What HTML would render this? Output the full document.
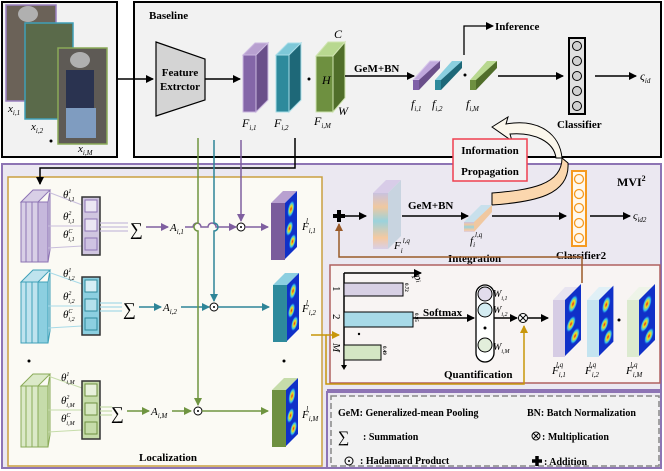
<!DOCTYPE html>
<html><head><meta charset="utf-8"><style>
html,body{margin:0;padding:0;background:#fff;}
svg{display:block;font-family:"Liberation Serif",serif;}
.b{font-weight:bold;}
</style></head><body>
<svg width="664" height="471" viewBox="0 0 664 471" xmlns="http://www.w3.org/2000/svg">
<defs>
<marker id="ak" markerWidth="8" markerHeight="8" refX="7" refY="4" orient="auto" markerUnits="userSpaceOnUse"><path d="M0,0L8,4L0,8z" fill="#000"/></marker>
<marker id="ap" markerWidth="8" markerHeight="8" refX="7" refY="4" orient="auto" markerUnits="userSpaceOnUse"><path d="M0,0L8,4L0,8z" fill="#7f5fa0"/></marker>
<marker id="at" markerWidth="8" markerHeight="8" refX="7" refY="4" orient="auto" markerUnits="userSpaceOnUse"><path d="M0,0L8,4L0,8z" fill="#2e8598"/></marker>
<marker id="ag" markerWidth="8" markerHeight="8" refX="7" refY="4" orient="auto" markerUnits="userSpaceOnUse"><path d="M0,0L8,4L0,8z" fill="#6f9440"/></marker>
<marker id="ao" markerWidth="8" markerHeight="8" refX="7" refY="4" orient="auto" markerUnits="userSpaceOnUse"><path d="M0,0L8,4L0,8z" fill="#c8960a"/></marker>
<marker id="ab" markerWidth="8" markerHeight="8" refX="7" refY="4" orient="auto" markerUnits="userSpaceOnUse"><path d="M0,0L8,4L0,8z" fill="#9a5a28"/></marker>
<linearGradient id="rain" x1="0" y1="0" x2="0" y2="1"><stop offset="0" stop-color="#c9c2de"/><stop offset=".25" stop-color="#f0c8a0"/><stop offset=".5" stop-color="#9ad2dc"/><stop offset=".8" stop-color="#f5c9a0"/><stop offset="1" stop-color="#d8d0e8"/></linearGradient>
<radialGradient id="hot"><stop offset="0" stop-color="#e02020"/><stop offset=".35" stop-color="#f0e020"/><stop offset=".7" stop-color="#30c0f0"/><stop offset="1" stop-color="#1030d0" stop-opacity="0"/></radialGradient>
<g id="heat">
<rect x="0" y="0" width="16" height="56" fill="#1030c8"/>
<ellipse cx="8" cy="12" rx="5" ry="8" fill="url(#hot)"/>
<ellipse cx="6" cy="30" rx="5" ry="7" fill="url(#hot)"/>
<ellipse cx="10" cy="46" rx="5" ry="7" fill="url(#hot)"/>
</g>
</defs>

<!-- top-left images box -->
<rect x="2" y="2" width="115" height="155" fill="#f2f2f2" stroke="#000" stroke-width="2"/>
<rect x="6" y="5" width="50" height="96" fill="#6b6258" stroke="#9a7fc0" stroke-width="1.5"/>
<rect x="25" y="23" width="48" height="96" fill="#5a6a4a" stroke="#3fa0b8" stroke-width="1.5"/>
<rect x="58" y="48" width="49" height="96" fill="#5e5a55" stroke="#8aaa58" stroke-width="1.5"/>
<rect x="66" y="70" width="28" height="40" fill="#2a3350"/>
<rect x="66" y="108" width="30" height="30" fill="#7f9cc0"/>
<ellipse cx="80" cy="60" rx="10" ry="8" fill="#b0b0b0"/>
<ellipse cx="28" cy="14" rx="10" ry="8" fill="#b0b0b0"/>
<text x="8" y="112" font-size="11" font-style="italic">x<tspan font-size="7" dy="3">i,1</tspan></text>
<text x="31" y="130" font-size="11" font-style="italic">x<tspan font-size="7" dy="3">i,2</tspan></text>
<circle cx="51" cy="141" r="1.5"/>
<text x="78" y="152" font-size="11" font-style="italic">x<tspan font-size="7" dy="3">i,M</tspan></text>

<!-- baseline box -->
<rect x="134" y="2" width="527" height="155" fill="#f2f2f2" stroke="#000" stroke-width="2"/>
<text x="149" y="19" font-size="11" class="b">Baseline</text>
<line x1="117" y1="79" x2="153" y2="79" stroke="#000" stroke-width="1.5" marker-end="url(#ak)"/>
<polygon points="156,42 205,59 205,100 156,116" fill="#d4d4d4" stroke="#000" stroke-width="1.2"/>
<text x="180" y="76" font-size="11" class="b" text-anchor="middle">Feature</text>
<text x="180" y="90" font-size="11" class="b" text-anchor="middle">Extrctor</text>
<line x1="205" y1="79" x2="240" y2="79" stroke="#000" stroke-width="1.5" marker-end="url(#ak)"/>
<g stroke-width="1">
<polygon points="243,55 255,43 268,43 256,55" fill="#b8a0d0" stroke="#cbb8e0"/>
<polygon points="256,55 268,43 268,100 256,112" fill="#6a4f8a" stroke="#cbb8e0"/>
<rect x="243" y="55" width="13" height="57" fill="#8466a8" stroke="#cbb8e0"/>
<polygon points="276,55 288,43 301,43 289,55" fill="#7ec8d8" stroke="#a8dde8"/>
<polygon points="289,55 301,43 301,100 289,112" fill="#1e6878" stroke="#a8dde8"/>
<rect x="276" y="55" width="13" height="57" fill="#2e8a9c" stroke="#a8dde8"/>
<polygon points="316,56 328,42 345,42 333,56" fill="#b8d890" stroke="#cfe4b0"/>
<polygon points="333,56 345,42 345,98 333,112" fill="#506e2a" stroke="#cfe4b0"/>
<rect x="316" y="56" width="17" height="56" fill="#6e9040" stroke="#cfe4b0"/>
</g>
<circle cx="309" cy="79" r="1.5"/>
<text x="322" y="84" font-size="12" font-style="italic">H</text>
<text x="334" y="38" font-size="12" font-style="italic">C</text>
<text x="338" y="115" font-size="12" font-style="italic">W</text>
<text x="242" y="127" font-size="12" font-style="italic">F<tspan font-size="7" dy="3">i,1</tspan></text>
<text x="274" y="127" font-size="12" font-style="italic">F<tspan font-size="7" dy="3">i,2</tspan></text>
<text x="314" y="125" font-size="12" font-style="italic">F<tspan font-size="7" dy="3">i,M</tspan></text>
<text x="354" y="72" font-size="11" class="b">GeM+BN</text>
<line x1="345" y1="76" x2="414" y2="76" stroke="#000" stroke-width="1.5" marker-end="url(#ak)"/>
<polygon points="413,80 430,61 440,61 423,80" fill="#c0a8dc" stroke="#d8c8ec"/><rect x="413" y="80" width="6" height="10" fill="#8060a8"/><polygon points="419,80 440,61 440,68 419,90" fill="#6a4f8a"/>
<polygon points="435,80 452,61 462,61 445,80" fill="#8ad0e0"/><rect x="435" y="80" width="6" height="10" fill="#2e8a9c"/><polygon points="441,80 462,61 462,68 441,90" fill="#1e6878"/>
<circle cx="465" cy="75" r="1.5"/>
<polygon points="470,80 487,61 497,61 480,80" fill="#b8d890"/><rect x="470" y="80" width="6" height="10" fill="#6e9040"/><polygon points="476,80 497,61 497,68 476,90" fill="#506e2a"/>
<text x="411" y="108" font-size="12" font-style="italic">f<tspan font-size="7" dy="3">i,1</tspan></text>
<text x="432" y="108" font-size="12" font-style="italic">f<tspan font-size="7" dy="3">i,2</tspan></text>
<text x="466" y="108" font-size="12" font-style="italic">f<tspan font-size="7" dy="3">i,M</tspan></text>
<polyline points="464,55 464,26 493,26" fill="none" stroke="#000" stroke-width="1.3" marker-end="url(#ak)"/>
<text x="495" y="30" font-size="11" class="b">Inference</text>
<line x1="498" y1="76" x2="563" y2="76" stroke="#000" stroke-width="1.5" marker-end="url(#ak)"/>
<rect x="569" y="38" width="16" height="76" fill="#e0e0e0" stroke="#000" stroke-width="2"/>
<g fill="#d0d0d0" stroke="#000"><circle cx="577" cy="46" r="4.5"/><circle cx="577" cy="61" r="4.5"/><circle cx="577" cy="76" r="4.5"/><circle cx="577" cy="91" r="4.5"/><circle cx="577" cy="106" r="4.5"/></g>
<text x="557" y="128" font-size="11" class="b">Classifier</text>
<line x1="595" y1="76" x2="636" y2="76" stroke="#000" stroke-width="1.5" marker-end="url(#ak)"/>
<text x="640" y="80" font-size="12" font-style="italic">ς<tspan font-size="7" dy="3">id</tspan></text>

<!-- MVI outer -->
<path d="M2,164H661V390H328V468H2Z" fill="#ebe8f1" stroke="#8d74b4" stroke-width="2"/>
<rect x="327" y="392" width="334" height="76" fill="#ebe8f1" stroke="#8d74b4" stroke-width="2"/>
<text x="617" y="186" font-size="12" class="b">MVI<tspan font-size="8" dy="-5">2</tspan></text>

<!-- propagation swoosh -->
<path d="M492,127 L508,117 L506,124 C540,118 560,135 562,158 L556,158 C554,142 535,132 510,134 L512,141 Z" fill="#fbf7ec" stroke="#000" stroke-width="1"/>
<path d="M562,158 C562,185 530,190 492,193 L492,205 C535,202 570,195 568,163 Z" fill="#fbd7ae" stroke="#000" stroke-width="1"/>
<rect x="453" y="139" width="74" height="42" fill="#f2f2f2" stroke="#f04050" stroke-width="1.5"/>
<text x="490" y="154" font-size="11" class="b" text-anchor="middle">Information</text>
<text x="490" y="175" font-size="11" class="b" text-anchor="middle">Propagation</text>

<!-- integration row -->
<path d="M333,216h12M339,210v12" stroke="#000" stroke-width="4"/>
<line x1="345" y1="216" x2="366" y2="216" stroke="#000" stroke-width="1.5" marker-end="url(#ak)"/>
<polygon points="373,193 386,180 401,180 388,193" fill="#d8cce8"/>
<polygon points="388,193 401,180 401,236 388,249" fill="#c8d4e0"/>
<rect x="373" y="193" width="15" height="56" fill="url(#rain)"/>
<text x="394" y="249" font-size="11" font-style="italic">F<tspan font-size="7" dy="4">i</tspan><tspan font-size="7" dy="-10">l,q</tspan></text>
<text x="408" y="209" font-size="11" class="b">GeM+BN</text>
<line x1="402" y1="216" x2="468" y2="216" stroke="#000" stroke-width="1.5" marker-end="url(#ak)"/>
<polygon points="464,222 481,205 492,205 475,222" fill="#c8e0ec"/><rect x="464" y="222" width="10" height="10" fill="url(#rain)"/><polygon points="474,222 492,205 492,212 474,232" fill="#f0c8a0"/>
<text x="470" y="244" font-size="11" font-style="italic">f<tspan font-size="7" dy="3">i</tspan><tspan font-size="7" dy="-10">l,q</tspan></text>
<text x="448" y="262" font-size="11" class="b">Integration</text>
<line x1="492" y1="216" x2="566" y2="216" stroke="#000" stroke-width="1.5" marker-end="url(#ak)"/>
<rect x="572" y="171" width="14" height="75" fill="#fff8ec" stroke="#f59a20" stroke-width="2"/>
<g fill="none" stroke="#f59a20" stroke-width="1.3"><circle cx="579" cy="179" r="4.5"/><circle cx="579" cy="194" r="4.5"/><circle cx="579" cy="208" r="4.5"/><circle cx="579" cy="223" r="4.5"/><circle cx="579" cy="238" r="4.5"/></g>
<text x="556" y="259" font-size="11" class="b">Classifier2</text>
<line x1="590" y1="216" x2="630" y2="216" stroke="#000" stroke-width="1.5" marker-end="url(#ak)"/>
<text x="633" y="219" font-size="11" font-style="italic">ς<tspan font-size="7" dy="3">id2</tspan></text>

<!-- quantification -->
<rect x="330" y="265" width="330" height="118" fill="#f8f4f3" stroke="#b06060" stroke-width="1.5"/>
<polyline points="582,283 582,257 339,257 339,224" fill="none" stroke="#9a5a28" stroke-width="1.5" marker-end="url(#ab)"/>
<line x1="344" y1="273" x2="344" y2="368" stroke="#000" stroke-width="1.5"/>
<line x1="344" y1="273" x2="421" y2="273" stroke="#000" stroke-width="1.5" marker-end="url(#ak)"/>
<path d="M341,365L344,370L347,365z"/>
<rect x="344" y="283" width="59" height="13" fill="#d8d0e4" stroke="#000"/>
<rect x="344" y="312" width="69" height="15" fill="#a8dae8" stroke="#000"/>
<rect x="344" y="345" width="37" height="15" fill="#d4e6c4" stroke="#000"/>
<text font-size="5" class="b" transform="translate(405,283) rotate(90)">0.72</text>
<text font-size="5" class="b" transform="translate(415,313) rotate(90)">0.95</text>
<text font-size="5" class="b" transform="translate(383,346) rotate(90)">0.49</text>
<text font-size="11" transform="translate(333,286) rotate(90)">1</text>
<text font-size="11" transform="translate(333,314) rotate(90)">2</text>
<text font-size="11" font-style="italic" transform="translate(333,343) rotate(90)">M</text>
<text font-size="11" font-style="italic" transform="translate(414,276) rotate(70)">p<tspan font-size="7">i</tspan></text>
<circle cx="359" cy="334" r="1.2"/>
<text x="423" y="316" font-size="11" class="b">Softmax</text>
<line x1="413" y1="318" x2="474" y2="318" stroke="#000" stroke-width="1.5" marker-end="url(#ak)"/>
<rect x="476" y="285" width="18" height="77" rx="9" fill="#fff" stroke="#000" stroke-width="1.3"/>
<circle cx="485" cy="294" r="7" fill="#e2dcec" stroke="#000"/>
<circle cx="485" cy="310" r="7" fill="#d4ecf2" stroke="#000"/>
<circle cx="485" cy="328" r="1.5"/>
<circle cx="485" cy="345" r="7" fill="#e2eedb" stroke="#000"/>
<text x="493" y="297" font-size="10" font-style="italic">W<tspan font-size="6" dy="3">i,1</tspan></text>
<text x="493" y="313" font-size="10" font-style="italic">W<tspan font-size="6" dy="3">i,2</tspan></text>
<text x="493" y="350" font-size="10" font-style="italic">W<tspan font-size="6" dy="3">i,M</tspan></text>
<line x1="494" y1="318" x2="517" y2="318" stroke="#000" stroke-width="1.5" marker-end="url(#ak)"/>
<circle cx="523" cy="318" r="4.5" fill="#fff" stroke="#000"/><path d="M520,315l6,6M526,315l-6,6" stroke="#000"/>
<line x1="528" y1="318" x2="548" y2="318" stroke="#000" stroke-width="1.5" marker-end="url(#ak)"/>
<g>
<polygon points="553,300 565,287 581,287 569,300" fill="#e8e4f0"/><rect x="553" y="300" width="12" height="57" fill="#d6cce4"/><g transform="translate(565,287) skewY(-45)"><use href="#heat" transform="translate(0,13)"/></g>
<polygon points="587,300 599,287 613,287 601,300" fill="#e0f0f6"/><rect x="587" y="300" width="12" height="57" fill="#c4e4f0"/><g transform="translate(599,287) skewY(-45)"><use href="#heat" transform="translate(0,13) scale(0.9,1)"/></g>
<circle cx="619" cy="320" r="1.5"/>
<polygon points="627,300 639,287 655,287 643,300" fill="#eef4e8"/><rect x="627" y="300" width="12" height="57" fill="#dceacf"/><g transform="translate(639,287) skewY(-45)"><use href="#heat" transform="translate(0,13)"/></g>
</g>
<text x="552" y="374" font-size="11" font-style="italic">F<tspan font-size="7" dy="3">i,1</tspan><tspan font-size="7" dx="-10" dy="-10">l,q</tspan></text>
<text x="585" y="374" font-size="11" font-style="italic">F<tspan font-size="7" dy="3">i,2</tspan><tspan font-size="7" dx="-10" dy="-10">l,q</tspan></text>
<text x="626" y="374" font-size="11" font-style="italic">F<tspan font-size="7" dy="3">i,M</tspan><tspan font-size="7" dx="-12" dy="-10">l,q</tspan></text>
<text x="444" y="378" font-size="11" class="b">Quantification</text>

<!-- localization -->
<rect x="8" y="177" width="314" height="289" fill="#fbfaf4" stroke="#c9a040" stroke-width="1.5"/>
<text x="139" y="461" font-size="11" class="b">Localization</text>
<polyline points="295,138 295,168 40,168 40,184" fill="none" stroke="#000" stroke-width="1.5" marker-end="url(#ak)"/>
<polyline points="311,335 326,335 326,384 524,384 524,326" fill="none" stroke="#c8960a" stroke-width="1.5" marker-end="url(#ao)"/>
<line x1="326" y1="335" x2="339" y2="335" stroke="#c8960a" stroke-width="1.5" marker-end="url(#ao)"/>

<!-- row 1 -->
<g stroke="#8d74b4" fill="#d8cfe6" stroke-width="1">
<polygon points="21,202 33,190 50,190 38,202"/>
<rect x="21" y="202" width="5" height="60"/><rect x="26" y="202" width="6" height="60"/><rect x="32" y="202" width="6" height="60"/>
<rect x="38" y="202" width="10" height="60" fill="#c6b8dc"/>
<polygon points="48,202 50,190 50,250 48,262"/>
</g>
<g stroke="#c8bedc" stroke-width="1"><line x1="48" y1="192" x2="82" y2="205"/><line x1="48" y1="226" x2="82" y2="226"/><line x1="48" y1="248" x2="82" y2="246"/></g>
<rect x="82" y="197" width="18" height="58" fill="#d0c6e0" stroke="#333" stroke-width="1.5"/>
<g fill="#ebe6f3" stroke="#8d74b4"><rect x="85" y="200" width="12" height="12"/><rect x="85" y="219" width="12" height="12"/><rect x="85" y="238" width="12" height="12" fill="#cfc3e2"/></g>
<g stroke="#c8bedc" stroke-width="1.2"><line x1="100" y1="223" x2="128" y2="223"/><line x1="100" y1="227" x2="128" y2="227"/><line x1="100" y1="231" x2="128" y2="231"/></g>
<text x="63" y="198" font-size="11" font-style="italic">θ<tspan font-size="6" dy="-5">1</tspan><tspan font-size="6" dx="-3" dy="8">i,1</tspan></text>
<text x="63" y="220" font-size="11" font-style="italic">θ<tspan font-size="6" dy="-5">2</tspan><tspan font-size="6" dx="-3" dy="8">i,1</tspan></text>
<text x="63" y="238" font-size="11" font-style="italic">θ<tspan font-size="6" dy="-5">C</tspan><tspan font-size="6" dx="-4" dy="8">i,1</tspan></text>
<text x="130" y="235" font-size="18">∑</text>
<line x1="146" y1="227" x2="168" y2="227" stroke="#7f5fa0" stroke-width="1.5" marker-end="url(#ap)"/>
<text x="170" y="231" font-size="11" font-style="italic">A<tspan font-size="7" dy="3">i,1</tspan></text>
<path d="M185,227H193a4,4 0 0 1 8,0H208a4,4 0 0 1 8,0H236" fill="none" stroke="#7f5fa0" stroke-width="1.5" marker-end="url(#ap)"/>
<line x1="241" y1="140" x2="241" y2="221" stroke="#7f5fa0" stroke-width="1.5" marker-end="url(#ap)"/>
<circle cx="241" cy="227" r="4" fill="#fff" stroke="#000"/><circle cx="241" cy="227" r="1" />
<line x1="245" y1="227" x2="268" y2="227" stroke="#7f5fa0" stroke-width="1.5" marker-end="url(#ap)"/>
<polygon points="271,203 283,191 297,191 285,203" fill="#b8a0d0"/><rect x="271" y="203" width="14" height="57" fill="#7a5c9c"/>
<g transform="translate(285,203) skewY(-45)"><use href="#heat" transform="scale(0.75,1)"/></g>
<text x="302" y="230" font-size="11" font-style="italic">F<tspan font-size="7" dy="3">i,1</tspan><tspan font-size="7" dx="-10" dy="-10">l</tspan></text>

<!-- row 2 -->
<g stroke="#3fa0b8" fill="#bfe3ee" stroke-width="1">
<polygon points="21,282 33,270 50,270 38,282"/>
<rect x="21" y="282" width="5" height="61"/><rect x="26" y="282" width="6" height="61"/><rect x="32" y="282" width="6" height="61"/>
<rect x="38" y="282" width="10" height="61" fill="#8ccfe0"/>
<polygon points="48,282 50,270 50,331 48,343"/>
</g>
<g stroke="#a8dae8" stroke-width="1"><line x1="48" y1="272" x2="82" y2="284"/><line x1="48" y1="306" x2="82" y2="306"/><line x1="48" y1="328" x2="82" y2="326"/></g>
<rect x="82" y="277" width="18" height="58" fill="#8ccfe0" stroke="#333" stroke-width="1.5"/>
<g fill="#d6eef5" stroke="#2e8a9c"><rect x="85" y="280" width="12" height="12"/><rect x="85" y="299" width="12" height="12" fill="#b4e0ec"/><rect x="85" y="318" width="12" height="12" fill="#8ccfe0"/></g>
<g stroke="#a8dae8" stroke-width="1.2"><line x1="100" y1="303" x2="122" y2="303"/><line x1="100" y1="307" x2="122" y2="307"/><line x1="100" y1="311" x2="122" y2="311"/></g>
<text x="63" y="277" font-size="11" font-style="italic">θ<tspan font-size="6" dy="-5">1</tspan><tspan font-size="6" dx="-3" dy="8">i,2</tspan></text>
<text x="63" y="300" font-size="11" font-style="italic">θ<tspan font-size="6" dy="-5">2</tspan><tspan font-size="6" dx="-3" dy="8">i,2</tspan></text>
<text x="63" y="318" font-size="11" font-style="italic">θ<tspan font-size="6" dy="-5">C</tspan><tspan font-size="6" dx="-4" dy="8">i,2</tspan></text>
<text x="123" y="315" font-size="18">∑</text>
<line x1="139" y1="307" x2="161" y2="307" stroke="#2e8598" stroke-width="1.5" marker-end="url(#at)"/>
<text x="163" y="311" font-size="11" font-style="italic">A<tspan font-size="7" dy="3">i,2</tspan></text>
<line x1="181" y1="307" x2="209" y2="307" stroke="#2e8598" stroke-width="1.5" marker-end="url(#at)"/>
<path d="M214,140V223a4,4 0 0 1 0,8V301" fill="none" stroke="#2e8598" stroke-width="1.5" marker-end="url(#at)"/>
<circle cx="214" cy="307" r="4" fill="#fff" stroke="#000"/><circle cx="214" cy="307" r="1"/>
<line x1="218" y1="307" x2="269" y2="307" stroke="#2e8598" stroke-width="1.5" marker-end="url(#at)"/>
<polygon points="273,285 285,273 299,273 287,285" fill="#8ccfe0"/><rect x="273" y="285" width="14" height="57" fill="#2e8a9c"/>
<g transform="translate(287,285) skewY(-45)"><use href="#heat" transform="scale(0.75,1)"/></g>
<text x="302" y="312" font-size="11" font-style="italic">F<tspan font-size="7" dy="3">i,2</tspan><tspan font-size="7" dx="-10" dy="-10">l</tspan></text>
<circle cx="29" cy="361" r="1.5"/><circle cx="284" cy="361" r="1.5"/>

<!-- row M -->
<g stroke="#8aaa58" fill="#dbe9c8" stroke-width="1">
<polygon points="21,386 33,374 50,374 38,386"/>
<rect x="21" y="386" width="5" height="61"/><rect x="26" y="386" width="6" height="61"/><rect x="32" y="386" width="6" height="61"/>
<rect x="38" y="386" width="10" height="61" fill="#c6dcaa"/>
<polygon points="48,386 50,374 50,435 48,447"/>
</g>
<g stroke="#c6dcaa" stroke-width="1"><line x1="48" y1="376" x2="82" y2="388"/><line x1="48" y1="410" x2="82" y2="410"/><line x1="48" y1="432" x2="82" y2="430"/></g>
<rect x="82" y="381" width="18" height="58" fill="#c6dcaa" stroke="#333" stroke-width="1.5"/>
<g fill="#e8f1dc" stroke="#6e9040"><rect x="85" y="384" width="12" height="12"/><rect x="85" y="403" width="12" height="12" fill="#d8e8c4"/><rect x="85" y="422" width="12" height="12" fill="#c6dcaa"/></g>
<g stroke="#c6dcaa" stroke-width="1.2"><line x1="100" y1="407" x2="112" y2="407"/><line x1="100" y1="411" x2="112" y2="411"/><line x1="100" y1="415" x2="112" y2="415"/></g>
<text x="61" y="381" font-size="11" font-style="italic">θ<tspan font-size="6" dy="-5">1</tspan><tspan font-size="6" dx="-3" dy="8">i,M</tspan></text>
<text x="61" y="404" font-size="11" font-style="italic">θ<tspan font-size="6" dy="-5">2</tspan><tspan font-size="6" dx="-3" dy="8">i,M</tspan></text>
<text x="61" y="422" font-size="11" font-style="italic">θ<tspan font-size="6" dy="-5">C</tspan><tspan font-size="6" dx="-4" dy="8">i,M</tspan></text>
<text x="111" y="419" font-size="18">∑</text>
<line x1="127" y1="411" x2="149" y2="411" stroke="#6f9440" stroke-width="1.5" marker-end="url(#ag)"/>
<text x="151" y="415" font-size="11" font-style="italic">A<tspan font-size="7" dy="3">i,M</tspan></text>
<line x1="172" y1="411" x2="191" y2="411" stroke="#6f9440" stroke-width="1.5" marker-end="url(#ag)"/>
<path d="M198,138V223a4,4 0 0 0 0,8V405" fill="none" stroke="#6f9440" stroke-width="1.5" marker-end="url(#ag)"/>
<circle cx="198" cy="411" r="4" fill="#fff" stroke="#000"/><circle cx="198" cy="411" r="1"/>
<line x1="202" y1="411" x2="268" y2="411" stroke="#6f9440" stroke-width="1.5" marker-end="url(#ag)"/>
<polygon points="272,390 284,378 298,378 286,390" fill="#c6dcaa"/><rect x="272" y="390" width="14" height="57" fill="#6e9040"/>
<g transform="translate(286,390) skewY(-45)"><use href="#heat" transform="scale(0.75,1)"/></g>
<text x="302" y="418" font-size="11" font-style="italic">F<tspan font-size="7" dy="3">i,M</tspan><tspan font-size="7" dx="-12" dy="-10">l</tspan></text>

<!-- legend -->
<rect x="331" y="396" width="328" height="70" fill="#f2f2f2" stroke="#888" stroke-width="1.5" stroke-dasharray="6,3"/>
<text x="338" y="416" font-size="10" class="b">GeM: Generalized-mean Pooling</text>
<text x="527" y="416" font-size="10" class="b">BN: Batch Normalization</text>
<text x="338" y="442" font-size="16">∑</text>
<text x="363" y="440" font-size="10" class="b">:  Summation</text>
<circle cx="349" cy="461" r="4" fill="none" stroke="#000"/><circle cx="349" cy="461" r="1"/>
<text x="360" y="464" font-size="10" class="b">: Hadamard Product</text>
<circle cx="536" cy="436" r="4" fill="none" stroke="#000"/><path d="M533,433l6,6M539,433l-6,6" stroke="#000"/>
<text x="542" y="440" font-size="10" class="b">: Multiplication</text>
<path d="M532,461h10M537,456v10" stroke="#000" stroke-width="3.5"/>
<text x="544" y="465" font-size="10" class="b">: Addition</text>
</svg>
</body></html>
